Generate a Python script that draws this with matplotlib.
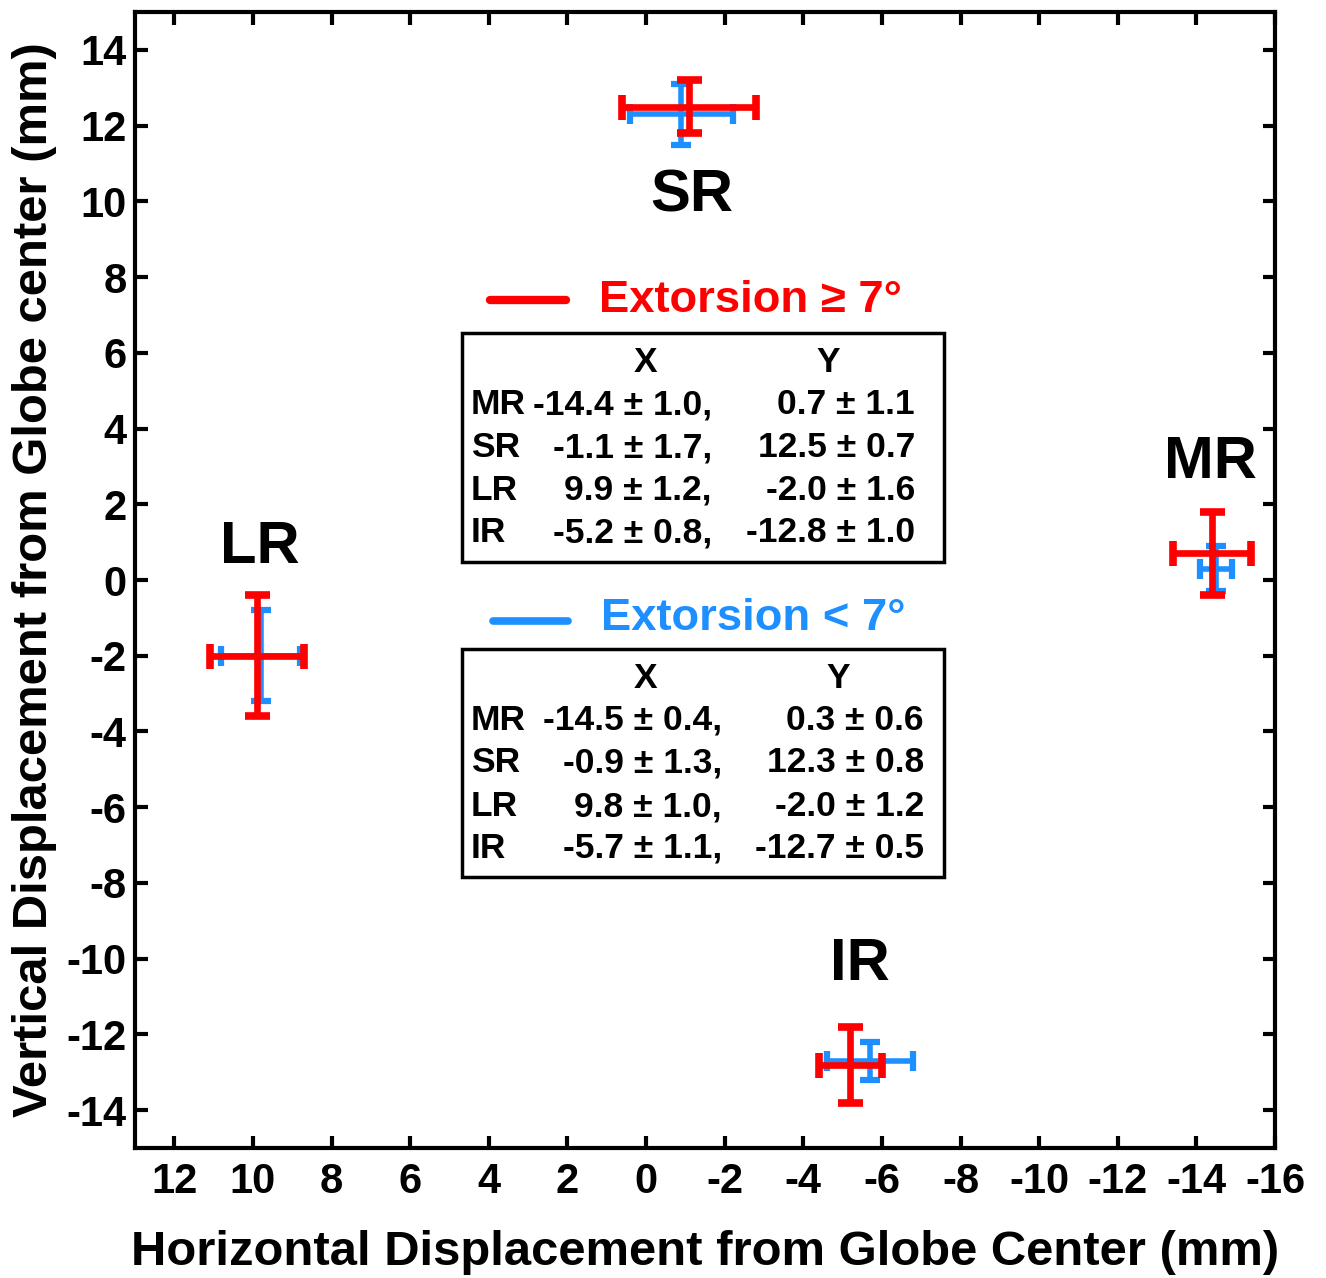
import matplotlib
matplotlib.use("Agg")
import matplotlib.pyplot as plt
from matplotlib.lines import Line2D
from matplotlib.patches import Rectangle

# ---------------- data ----------------
muscles = ["MR", "SR", "LR", "IR"]
# Extorsion >= 7 deg
hi_x = [-14.4, -1.1, 9.9, -5.2]
hi_xsd = [1.0, 1.7, 1.2, 0.8]
hi_y = [0.7, 12.5, -2.0, -12.8]
hi_ysd = [1.1, 0.7, 1.6, 1.0]
# Extorsion < 7 deg
lo_x = [-14.5, -0.9, 9.8, -5.7]
lo_xsd = [0.4, 1.3, 1.0, 1.1]
lo_y = [0.3, 12.3, -2.0, -12.7]
lo_ysd = [0.6, 0.8, 1.2, 0.5]

xticks = list(range(12, -17, -2))
yticks = list(range(-14, 15, 2))

RED = "#ff0000"
BLUE = "#1e8fff"
FONT = "Liberation Sans"

W, H = 1326, 1278
fig = plt.figure(figsize=(W / 100, H / 100), dpi=100)
ax = fig.add_axes([135 / W, 1 - 1148 / H, (1275 - 135) / W, (1148 - 12) / H])

def fx(px):
    return px / W

def fy(py):
    return 1 - py / H

# error bars: blue first, red on top
ax.errorbar(lo_x, lo_y, xerr=lo_xsd, yerr=lo_ysd, fmt="none", ecolor=BLUE,
            elinewidth=4, capsize=7, capthick=4.5, zorder=3)
ax.errorbar(hi_x, hi_y, xerr=hi_xsd, yerr=hi_ysd, fmt="none", ecolor=RED,
            elinewidth=4.8, capsize=9, capthick=5.5, zorder=4)

ax.set_xlim(13, -16)
ax.set_ylim(-15, 15)
ax.set_xticks(xticks)
ax.set_yticks(yticks)
ax.set_xticklabels([str(t) for t in xticks])
ax.set_yticklabels([str(t) for t in yticks])
ax.tick_params(direction="in", length=9, width=3, top=True, right=True,
               labelsize=30, pad=10)
for lab in ax.get_xticklabels() + ax.get_yticklabels():
    lab.set_fontfamily(FONT)
    lab.set_fontweight("bold")
ax.tick_params(axis="y", pad=6)
for s in ax.spines.values():
    s.set_linewidth(3)

ax.set_xlabel("Horizontal Displacement from Globe Center (mm)", fontsize=35.3,
              fontweight="bold", family=FONT, labelpad=20)
ax.set_ylabel("Vertical Displacement from Globe center (mm)", fontsize=35.3,
              fontweight="bold", family=FONT, labelpad=7)

# muscle labels
label_pos = {"SR": (692, 196), "LR": (260, 547), "MR": (1210, 462), "IR": (860, 964)}
for m in muscles:
    px, py = label_pos[m]
    fig.text(fx(px), fy(py), m, fontsize=43, fontweight="bold", family=FONT,
             ha="center", va="center")

# legend entries
fig.add_artist(Line2D([fx(490), fx(566)], [fy(300), fy(300)], color=RED, lw=6,
                      solid_capstyle="round"))
fig.text(fx(599), fy(300), "Extorsion \u2265 7\u00b0", color=RED, fontsize=32.7,
         fontweight="bold", family=FONT, ha="left", va="center")
fig.add_artist(Line2D([fx(493), fx(568)], [fy(621), fy(621)], color=BLUE, lw=5.5,
                      solid_capstyle="round"))
fig.text(fx(601), fy(619), "Extorsion < 7\u00b0", color=BLUE, fontsize=32.7,
         fontweight="bold", family=FONT, ha="left", va="center")

def fmt(v, sd, comma):
    return f"{v:.1f} \u00b1 {sd:.1f}" + ("," if comma else "")

def table(top, bottom, header_y, rows_y, xs, xsds, ys, ysds, x_right, y_right,
          hx, hy):
    fig.add_artist(Rectangle((fx(462), fy(bottom)), fx(944) - fx(462),
                             fy(top) - fy(bottom), transform=fig.transFigure,
                             fill=False, ec="black", lw=2.5))
    kw = dict(fontsize=25.5, fontweight="bold", family=FONT, va="center")
    fig.text(fx(hx), fy(header_y), "X", ha="center", **kw)
    fig.text(fx(hy), fy(header_y), "Y", ha="center", **kw)
    for i, m in enumerate(muscles):
        yy = fy(rows_y[i])
        fig.text(fx(471), yy, m, ha="left", **kw)
        fig.text(fx(x_right), yy, fmt(xs[i], xsds[i], True), ha="right", **kw)
        fig.text(fx(y_right), yy, fmt(ys[i], ysds[i], False), ha="right", **kw)

table(333, 562, 362, [405, 448, 490, 533], hi_x, hi_xsd, hi_y, hi_ysd,
      712, 915, 645, 828)
table(649, 877, 678, [720, 763, 807, 848], lo_x, lo_xsd, lo_y, lo_ysd,
      722, 924, 645, 838)

fig.savefig("out.png", dpi=100)
